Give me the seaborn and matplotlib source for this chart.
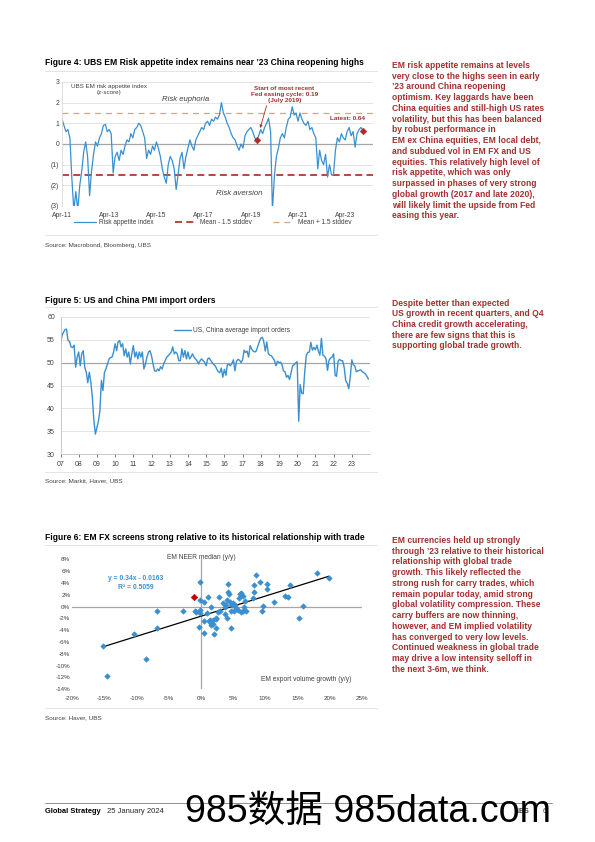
import matplotlib
matplotlib.use("Agg")
import matplotlib.pyplot as plt
import matplotlib.dates as mdates
from matplotlib.ticker import FuncFormatter
import numpy as np
import pandas as pd
import seaborn as sns

# ---------------- data ----------------
# Figure 4: UBS EM risk appetite index (z-score), monthly from Apr-11
risk_start = "2011-04-01"
risk_index = [
    1.2, 0.9, 0.6, 0.7, 0.3, -1.7, -3.2, -2.3, -3.2, -2.0, -1.3, -0.4,
    0.1, -0.6, -2.5, -1.3, -0.5, 0.1, -0.1, 0.3, 0.5, 0.9, 0.95, 0.6,
    0.7, 0.5, -1.4, -0.6, -0.4, -0.8, -0.3, -0.5, -0.1, 0.2, 0.1, 0.5,
    0.3, 0.7, 0.8, 1.0, 0.9, 0.6, 0.3, -0.7, -0.3, -0.5, -0.1, -0.3,
    0.1, -0.2, -0.6, -1.2, -1.6, -1.9, -1.0, -0.6, -0.8, -1.2, -2.2, -1.5,
    -0.7, -0.4, -1.2, -0.6, -0.2, 0.2, -0.1, -0.3, 0.2, 0.4, 0.6, 0.8,
    0.7, 1.0, 1.1, 0.9, 1.2, 1.1, 1.3, 1.2, 1.4, 2.0, 1.5, 1.3,
    1.0, 0.8, 0.5, 0.3, 0.2, -0.1, -0.3, 0.0, -0.2, 0.4, 0.6, 0.7,
    0.8, 0.6, 0.3, 0.19, 0.4, 0.7, 0.5, 0.8, 1.0, 1.25, 0.6, -3.2,
    -1.5, -0.6, -0.2, 0.3, 0.5, 0.3, 0.8, 1.2, 1.3, 1.8, 1.4, 1.5,
    1.1, 1.5, 1.2, 1.0, 0.9, 1.1, 0.7, 0.8, 0.5, 0.3, -1.2, -0.3,
    -0.8, -1.0, -0.5, -1.6, -1.0, -1.5, -1.5, -0.3, 0.3, 0.1, 0.5, 0.3,
    0.2, 0.6, 0.8, 0.4, 0.6, -0.15, 0.5, 0.7, 0.8, 0.64,
]
mean_minus_sd = -1.5
mean_plus_sd = 1.5
fed_start_date = "2019-07-01"
fed_start_value = 0.19

# Figure 5: US, China average PMI import orders, monthly from Jan-07
pmi_start = "2007-01-01"
pmi_import_orders = [
    54.1, 55.9, 56.6, 57.2, 57.3, 54.8, 54.6, 53.4, 53.3, 53.8, 49.0, 51.2,
    52.3, 49.3, 51.9, 52.6, 49.0, 47.9, 45.6, 47.9, 45.7, 42.4, 37.3, 34.4,
    35.8, 37.3, 39.5, 46.1, 43.9, 47.9, 48.6, 49.7, 50.8, 51.1, 51.2, 52.3,
    54.1, 52.6, 54.5, 54.8, 53.4, 54.1, 51.5, 53.0, 51.2, 52.3, 49.7, 51.9,
    53.7, 51.2, 52.3, 50.8, 52.3, 51.2, 52.3, 48.6, 49.7, 51.2, 52.3, 52.6,
    51.5, 49.7, 48.2, 48.1, 48.6, 48.2, 49.1, 48.6, 49.7, 50.4, 51.2, 51.5,
    51.9, 52.3, 53.4, 51.9, 52.3, 51.9, 50.4, 50.4, 53.0, 51.2, 52.6, 50.8,
    52.3, 50.8, 51.2, 51.9, 51.2, 50.8, 50.4, 49.7, 50.4, 50.8, 50.4, 50.1,
    49.3, 50.8, 51.0, 50.5, 50.0, 49.6, 49.3, 48.6, 48.0, 47.8, 48.8, 46.8,
    48.5, 47.2, 49.5, 49.6, 49.3, 49.8, 50.6, 48.2, 50.3, 50.7, 50.5, 50.0,
    50.6, 52.7, 52.2, 52.5, 51.2, 53.7, 53.0, 52.5, 52.3, 52.5, 53.5, 54.5,
    55.3, 55.5, 54.6, 52.5, 54.5, 52.0, 51.6, 51.5, 51.0, 50.5, 49.3, 50.3,
    50.0, 50.1, 49.6, 48.2, 48.0, 46.8, 47.2, 46.3, 47.8, 49.3, 49.5, 49.9,
    50.2, 37.2, 45.2, 43.3, 43.2, 48.0, 51.5, 52.2, 52.3, 54.4, 52.7, 53.3,
    52.8, 53.8, 52.5, 51.6, 55.3, 51.6, 51.4, 50.8, 48.3, 50.5, 51.0, 51.2,
    51.9, 47.2, 47.0, 50.3, 50.7, 50.4, 50.4, 49.0, 46.0, 45.5, 44.3, 46.8,
    50.6, 49.5, 49.3, 48.0, 48.2, 48.3, 48.4, 48.0, 47.8, 47.5, 47.0, 46.4,
]

# Figure 6: EM export volume growth (x, %) vs EM NEER median (y, %)
export_growth = [
    -15.3, -14.6, -10.4, -8.6, -6.9, -6.9, -2.8, -0.9, -0.8, -0.2,
    -0.2, -0.2, -0.2, -0.3, 0.5, 0.5, 0.5, 0.9, 1.1, 1.2,
    1.4, 1.5, 1.5, 1.6, 1.8, 1.9, 2.0, 2.3, 2.4, 2.4,
    2.7, 2.8, 3.0, 3.4, 3.7, 3.7, 3.9, 4.0, 4.1, 4.2,
    4.2, 4.4, 4.5, 4.6, 4.7, 4.9, 5.0, 5.1, 5.3, 5.5,
    5.7, 5.9, 6.0, 6.2, 6.3, 6.5, 6.6, 6.7, 6.9, 7.0,
    8.1, 8.2, 8.3, 8.6, 9.2, 9.5, 9.6, 10.2, 10.2, 11.4,
    13.0, 13.5, 13.8, 15.2, 15.8, 18.0, 19.9,
]
neer_change = [
    -6.7, -11.7, -4.7, -8.9, -0.7, -3.6, -0.7, -0.7, -1.0, 4.1,
    1.1, -0.5, -1.1, -3.4, 0.7, -2.5, -4.4, -1.1, 1.6, -2.5,
    -2.3, 0.0, -2.8, -3.1, -2.3, -2.9, -4.6, -2.0, -2.1, -3.7,
    -1.0, 1.6, -0.7, 0.6, -0.1, -1.2, 0.2, -1.9, 1.1, 3.8,
    2.5, 2.1, 0.8, -3.6, -0.7, 0.3, 0.6, -0.7, 0.3, -0.3,
    -0.5, 1.4, 2.1, -0.9, 2.3, 1.8, -0.8, 0.0, 1.0, -0.7,
    1.4, 2.5, 3.6, 5.4, 4.1, -0.7, 0.1, 2.9, 3.9, 0.7,
    1.8, 1.7, 3.6, -2.0, 0.1, 5.6, 4.9,
]
latest_export = [-1.1]
latest_neer = [1.7]
fit_slope = 0.34
fit_intercept = -0.0163
fit_r2 = 0.5059

para_fig4 = [
    "EM risk appetite remains at levels",
    "very close to the highs seen in early",
    "\u201923 around China reopening",
    "optimism. Key laggards have been",
    "China equities and still-high US rates",
    "volatility, but this has been balanced",
    "by robust performance in",
    "EM ex China equities, EM local debt,",
    "and subdued vol in EM FX and US",
    "equities. This relatively high level of",
    "risk appetite, which was only",
    "surpassed in phases of very strong",
    "global growth (2017 and late 2020),",
    "will likely limit the upside from Fed",
    "easing this year.",
]
para_fig5 = [
    "Despite better than expected",
    "US growth in recent quarters, and Q4",
    "China credit growth accelerating,",
    "there are few signs that this is",
    "supporting global trade growth.",
]
para_fig6 = [
    "EM currencies held up strongly",
    "through \u201923 relative to their historical",
    "relationship with global trade",
    "growth. This likely reflected the",
    "strong rush for carry trades, which",
    "remain popular today, amid strong",
    "global volatility compression. These",
    "carry buffers are now thinning,",
    "however, and EM implied volatility",
    "has converged to very low levels.",
    "Continued weakness in global trade",
    "may drive a low intensity selloff in",
    "the next 3-6m, we think.",
]

# ---------------- style ----------------
sns.set_theme(style="white")
plt.rcParams["font.family"] = ["Liberation Sans", "Noto Sans CJK SC", "DejaVu Sans"]
plt.rcParams["axes.unicode_minus"] = False

BLUE = "#3a8fd0"
RED = "#a3302e"
GRID = "#d9d9d9"
AXIS = "#a6a6a6"
TICK = "#404040"

W, H = 595, 842
fig = plt.figure(figsize=(W / 100, H / 100), dpi=100)
renderer = fig.canvas.get_renderer()


def box(l, t, r, b):
    return [l / W, 1 - b / H, (r - l) / W, (b - t) / H]


def fx(x):
    return x / W


def fy(y):
    return 1 - y / H


def fit_size(s, width, weight="normal", base=6.0):
    t = fig.text(0, 0, s, fontsize=base, fontweight=weight)
    w = t.get_window_extent(renderer).width
    t.remove()
    return base * width / w


def hline(y, x0=45, x1=377, color=GRID, lw=0.5):
    fig.add_artist(plt.Line2D([fx(x0), fx(x1)], [fy(y), fy(y)], color=color, lw=lw))


# ---------------- titles, sources, side text ----------------
titles = [
    ("Figure 4: UBS EM Risk appetite index remains near \u201923 China reopening highs", 62.5, 322),
    ("Figure 5: US and China PMI import orders", 300, 172),
    ("Figure 6: EM FX screens strong relative to its historical relationship with trade", 537, 325),
]
tsize = np.mean([fit_size(s, w, "bold") for s, _, w in titles])
for s, y, w in titles:
    fig.text(fx(45), fy(y), s, fontsize=tsize, fontweight="bold", color="black", va="center")

for s, y in [("Source: Macrobond, Bloomberg, UBS", 245), ("Source: Markit, Haver, UBS", 481),
             ("Source: Haver, UBS", 718)]:
    fig.text(fx(45), fy(y), s, fontsize=4.6, color="#404040", va="center")

for y in [71, 235, 307, 472, 545, 708]:
    hline(y)

psize = fit_size(para_fig4[4], 154, "bold")
for lines, top in [(para_fig4, 65), (para_fig5, 302.7), (para_fig6, 540)]:
    for i, s in enumerate(lines):
        fig.text(fx(391.7), fy(top + i * 10.75 + 2.8), s, fontsize=psize, fontweight="bold",
                 color=RED, va="baseline")

# ---------------- Figure 4 ----------------
ax1 = fig.add_axes(box(62, 82, 372.8, 206))
risk_df = pd.DataFrame({"date": pd.date_range(risk_start, periods=len(risk_index), freq="MS"),
                        "value": risk_index})
for v in range(-3, 4):
    ax1.axhline(v, color=AXIS if v == 0 else GRID, lw=0.9 if v == 0 else 0.5, zorder=0)
ax1.axhline(mean_minus_sd, color="#b5473a", lw=1.4, ls=(0, (3.6, 2.2)), zorder=1.5,
            label="Mean - 1.5 stddev")
ax1.axhline(mean_plus_sd, color="#d9a17f", lw=0.9, ls=(0, (4.7, 4)), zorder=1.5,
            label="Mean + 1.5 stddev")
sns.lineplot(data=risk_df, x="date", y="value", ax=ax1, color=BLUE, lw=0.9, zorder=2,
             label="Risk appetite index")
marks = pd.DataFrame({"date": [pd.Timestamp(fed_start_date), risk_df["date"].iloc[-1]],
                      "value": [fed_start_value, risk_index[-1]]})
sns.scatterplot(data=marks, x="date", y="value", ax=ax1, marker="D", s=12, color="#b02a2a",
                edgecolor="#b02a2a", zorder=4)

ax1.set_xlim(pd.Timestamp("2011-04-01"), pd.Timestamp("2024-06-01"))
ax1.set_ylim(-3, 3)
ax1.set_yticks(range(-3, 4))
ax1.yaxis.set_major_formatter(FuncFormatter(lambda v, p: f"({abs(int(v))})" if v < 0 else f"{int(v)}"))
ax1.set_xticks(pd.date_range("2011-04-01", "2023-04-01", freq="24MS"))
ax1.xaxis.set_major_formatter(mdates.DateFormatter("%b-%y"))
ax1.tick_params(axis="both", labelsize=4.9, colors=TICK, length=0, pad=2)
ax1.tick_params(axis="x", pad=4)
ax1.set_xlabel("")
ax1.set_ylabel("")
for side in ["top", "right", "bottom"]:
    ax1.spines[side].set_visible(False)
ax1.spines["left"].set_color(GRID)
ax1.spines["left"].set_linewidth(0.6)

ax1.text(pd.Timestamp("2013-04-01"), 2.62, "UBS EM risk appetite index\n(z-score)", ha="center",
         va="center", fontsize=4.5, color="#404040", linespacing=1.25)
ax1.text(pd.Timestamp("2016-07-01"), 2.17, "Risk euphoria", ha="center", va="center",
         fontsize=5.6, style="italic", color="#404040")
ax1.text(pd.Timestamp("2018-10-01"), -2.38, "Risk aversion", ha="center", va="center",
         fontsize=5.6, style="italic", color="#404040")
ax1.text(pd.Timestamp("2020-09-01"), 2.4,
         f"Start of most recent\nFed easing cycle: {fed_start_value:.2f}\n(July 2019)",
         ha="center", va="center", fontsize=4.6, fontweight="bold", color=RED, linespacing=1.2)
ax1.annotate("", xy=(pd.Timestamp(fed_start_date), fed_start_value),
             xytext=(pd.Timestamp("2019-12-01"), 1.85),
             arrowprops=dict(arrowstyle="-|>", color=RED, lw=0.6, shrinkA=0, shrinkB=9,
                             mutation_scale=4))
ax1.text(pd.Timestamp("2023-05-01"), 1.24, f"Latest: {risk_index[-1]:.2f}", ha="center",
         va="center", fontsize=4.6, fontweight="bold", color=RED)

h, l = ax1.get_legend_handles_labels()
order = [l.index("Risk appetite index"), l.index("Mean - 1.5 stddev"), l.index("Mean + 1.5 stddev")]
ax1.legend([h[i] for i in order], [l[i] for i in order], ncol=3, loc="center",
           bbox_to_anchor=(0.485, -0.135), frameon=False, fontsize=4.7, handlelength=3.4,
           handletextpad=0.4, columnspacing=3.3, labelcolor="#404040")

# ---------------- Figure 5 ----------------
ax2 = fig.add_axes(box(60.5, 316.7, 370, 454.3))
pmi_df = pd.DataFrame({"date": pd.date_range(pmi_start, periods=len(pmi_import_orders), freq="MS"),
                       "value": pmi_import_orders})
for v in range(30, 61, 5):
    ax2.axhline(v, color=AXIS if v == 50 else GRID, lw=0.9 if v == 50 else 0.5, zorder=0)
sns.lineplot(data=pmi_df, x="date", y="value", ax=ax2, color=BLUE, lw=1.0,
             label="US, China average import orders")
ax2.set_xlim(pd.Timestamp("2007-01-01"), pd.Timestamp("2024-01-01"))
ax2.set_ylim(30, 60)
ax2.set_yticks(range(30, 61, 5))
ax2.set_xticks(pd.date_range("2007-01-01", "2023-01-01", freq="YS"))
ax2.xaxis.set_major_formatter(mdates.DateFormatter("%y"))
ax2.tick_params(axis="y", labelsize=5.0, colors=TICK, length=0, pad=4)
ax2.tick_params(axis="x", labelsize=5.0, colors=TICK, length=2, width=0.5, pad=3,
                direction="out", bottom=True)
ax2.set_xlabel("")
ax2.set_ylabel("")
for side in ["top", "right"]:
    ax2.spines[side].set_visible(False)
for side in ["left", "bottom"]:
    ax2.spines[side].set_color("#bfbfbf")
    ax2.spines[side].set_linewidth(0.6)
ax2.legend(loc="center", bbox_to_anchor=(0.555, 0.9), frameon=False, fontsize=4.8,
           handlelength=2.6, handletextpad=0.3, labelcolor="#404040")

# ---------------- Figure 6 ----------------
ax3 = fig.add_axes(box(72.4, 559.3, 361.7, 689.3))
ax3.axhline(0, color=AXIS, lw=0.9, zorder=0)
ax3.axvline(0, color=AXIS, lw=0.9, zorder=0)
sns.scatterplot(x=export_growth, y=neer_change, ax=ax3, marker="D", s=8, color=BLUE,
                edgecolor=BLUE, linewidth=0.4, zorder=3)
sns.scatterplot(x=latest_export, y=latest_neer, ax=ax3, marker="D", s=11, color="#c00000",
                edgecolor="#c00000", linewidth=0.4, zorder=4)
fit_x = np.array([min(export_growth), max(export_growth)])
sns.lineplot(x=fit_x, y=fit_slope * fit_x + fit_intercept * 100, ax=ax3, color="black", lw=0.9,
             zorder=2)
ax3.set_xlim(-20, 25)
ax3.set_ylim(-14, 8)
ax3.set_xticks(range(-20, 26, 5))
ax3.set_yticks(range(-14, 9, 2))
ax3.xaxis.set_major_formatter(FuncFormatter(lambda v, p: f"{v:.0f}%"))
ax3.yaxis.set_major_formatter(FuncFormatter(lambda v, p: f"{v:.0f}%"))
ax3.tick_params(axis="both", labelsize=4.5, colors=TICK, length=0, pad=1.5)
ax3.tick_params(axis="x", pad=5)
for side in ax3.spines:
    ax3.spines[side].set_visible(False)
ax3.text(0, 8.25, "EM NEER median (y/y)", ha="center", va="center", fontsize=4.8,
         color="#404040", clip_on=False)
ax3.text(16.3, -12.4, "EM export volume growth (y/y)", ha="center", va="center", fontsize=4.8,
         color="#404040")
ax3.text(-10.2, 4.0,
         f"y = {fit_slope:.2f}x - {abs(fit_intercept):.4f}\nR\u00b2 = {fit_r2:.4f}",
         ha="center", va="center", fontsize=4.9, fontweight="bold", color=BLUE, linespacing=1.25)

# ---------------- footer ----------------
hline(803, 45, 552, color="#7f7f7f", lw=0.6)
fig.text(fx(45), fy(811.5), "Global Strategy", fontsize=fit_size("Global Strategy", 56.7, "bold"),
         fontweight="bold", color="black", va="center")
fig.text(fx(106.7), fy(811.5), "25 January 2024", fontsize=fit_size("25 January 2024", 57),
         color="#262626", va="center")
fig.text(fx(515), fy(811.5), "UBS", fontsize=5, fontweight="bold", color="#404040", va="center")
fig.text(fx(543), fy(811.5), "6", fontsize=5, color="#404040", va="center")
wm = "985\u6570\u636e 985data.com"
fig.text(fx(368), fy(812), wm, fontsize=fit_size(wm, 370), color="black", ha="center",
         va="center", zorder=10)

fig.savefig("out.png", dpi=100)
